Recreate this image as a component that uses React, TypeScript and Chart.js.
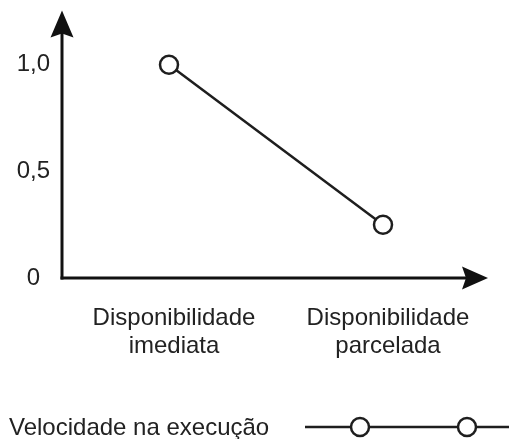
import React, { useEffect, useRef } from "react";
import { Chart, registerables } from "chart.js";

Chart.register(...registerables);

const categories: string[][] = [
  ["Disponibilidade", "imediata"],
  ["Disponibilidade", "parcelada"],
];
const seriesLabel = "Velocidade na execução";
const seriesValues: number[] = [1.0, 0.25];
const yTickValues: number[] = [0, 0.5, 1.0];
const yTickLabels: string[] = ["0", "0,5", "1,0"];

const FONT = "'Liberation Sans', Arial, Helvetica, sans-serif";
const TEXT = "#222222";
const AXIS = "#111111";

function drawArrowHead(
  ctx: CanvasRenderingContext2D,
  tipX: number,
  tipY: number,
  dir: "up" | "right",
  len: number,
  half: number
) {
  ctx.beginPath();
  if (dir === "up") {
    ctx.moveTo(tipX, tipY);
    ctx.lineTo(tipX + half, tipY + len);
    ctx.lineTo(tipX, tipY + len - 4);
    ctx.lineTo(tipX - half, tipY + len);
  } else {
    ctx.moveTo(tipX, tipY);
    ctx.lineTo(tipX - len, tipY + half);
    ctx.lineTo(tipX - len + 4, tipY);
    ctx.lineTo(tipX - len, tipY - half);
  }
  ctx.closePath();
  ctx.fill();
}

const axesArrowPlugin = {
  id: "axesArrows",
  beforeDatasetsDraw(chart: any) {
    const { ctx, chartArea } = chart;
    const x0 = chartArea.left;
    const y0 = chartArea.bottom;
    ctx.save();
    ctx.strokeStyle = AXIS;
    ctx.fillStyle = AXIS;
    ctx.lineWidth = 3;
    ctx.lineCap = "butt";
    ctx.beginPath();
    ctx.moveTo(x0, y0 + 1.5);
    ctx.lineTo(x0, chartArea.top + 20);
    ctx.stroke();
    ctx.beginPath();
    ctx.moveTo(x0 - 1.5, y0);
    ctx.lineTo(chartArea.right - 20, y0);
    ctx.stroke();
    drawArrowHead(ctx, x0, chartArea.top - 1, "up", 27, 11.5);
    drawArrowHead(ctx, chartArea.right - 2, y0, "right", 26, 11.5);
    ctx.restore();
  },
};

const legendPlugin = {
  id: "customLegend",
  afterDraw(chart: any) {
    const { ctx } = chart;
    const ds = chart.data.datasets[0];
    const baseY = chart.height - 4;
    const midY = baseY - 8;
    ctx.save();
    ctx.font = `24px ${FONT}`;
    ctx.fillStyle = TEXT;
    ctx.textAlign = "left";
    ctx.textBaseline = "alphabetic";
    ctx.fillText(ds.label, 9, baseY);
    const startX = 305;
    const endX = chart.width;
    ctx.strokeStyle = ds.borderColor;
    ctx.lineWidth = 2.5;
    ctx.beginPath();
    ctx.moveTo(startX, midY);
    ctx.lineTo(endX, midY);
    ctx.stroke();
    [360, 467].forEach((cx) => {
      ctx.beginPath();
      ctx.arc(cx, midY, 9, 0, Math.PI * 2);
      ctx.fillStyle = "#ffffff";
      ctx.fill();
      ctx.lineWidth = 2.5;
      ctx.stroke();
    });
    ctx.restore();
  },
};

export default function App() {
  const canvasRef = useRef<HTMLCanvasElement | null>(null);

  useEffect(() => {
    if (!canvasRef.current) return;
    const chart = new Chart(canvasRef.current, {
      type: "line",
      data: {
        labels: categories,
        datasets: [
          {
            label: seriesLabel,
            data: seriesValues,
            borderColor: "#1e1e1e",
            borderWidth: 2.5,
            pointRadius: 9,
            pointHoverRadius: 9,
            pointBorderWidth: 2.5,
            pointBackgroundColor: "#ffffff",
            pointBorderColor: "#1e1e1e",
            tension: 0,
            clip: false as any,
          },
        ],
      },
      options: {
        animation: false,
        responsive: true,
        maintainAspectRatio: false,
        layout: { padding: { top: 9, right: 19, bottom: 0, left: 0 } },
        plugins: {
          legend: { display: false },
          tooltip: { enabled: false },
        },
        scales: {
          x: {
            type: "category",
            offset: true,
            grid: { display: false },
            border: { display: false },
            ticks: {
              font: { family: FONT, size: 24, lineHeight: 1.17 },
              color: TEXT,
              padding: 18,
              labelOffset: 5,
              maxRotation: 0,
              autoSkip: false,
            },
            afterFit: (s: any) => {
              s.height = 161;
              s.paddingLeft = 0;
              s.paddingRight = 0;
            },
          },
          y: {
            type: "linear",
            min: 0,
            max: 1.25,
            grid: { display: false },
            border: { display: false },
            afterBuildTicks: (s: any) => {
              s.ticks = yTickValues.map((v) => ({ value: v }));
            },
            ticks: {
              font: { family: FONT, size: 24 },
              color: TEXT,
              crossAlign: "center",
              padding: 4,
              callback: (v: any) => {
                const i = yTickValues.indexOf(Number(v));
                return i >= 0 ? yTickLabels[i] : "";
              },
            },
            afterFit: (s: any) => {
              s.width = 62;
              s.paddingTop = 0;
              s.paddingBottom = 0;
            },
          },
        },
      },
      plugins: [axesArrowPlugin, legendPlugin],
    });
    return () => chart.destroy();
  }, []);

  return (
    <div
      style={{
        position: "fixed",
        left: 0,
        top: 0,
        width: 509,
        height: 439,
        background: "#ffffff",
      }}
    >
      <canvas ref={canvasRef} />
    </div>
  );
}
